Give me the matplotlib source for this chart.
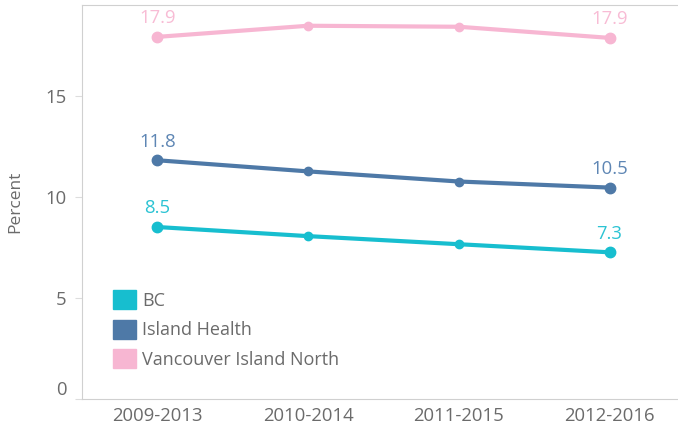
import matplotlib
matplotlib.use('Agg')
import matplotlib.pyplot as plt
from matplotlib.patches import Patch

plt.rcParams['font.family'] = ['Open Sans', 'DejaVu Sans']

# data
periods = ['2009-2013', '2010-2014', '2011-2015', '2012-2016']
bc = [8.5, 8.05, 7.65, 7.25]
island_health = [11.8, 11.25, 10.75, 10.45]
van_island_north = [17.9, 18.45, 18.4, 17.85]
end_labels = {'BC': ('8.5', '7.3'), 'Island Health': ('11.8', '10.5'),
              'Vancouver Island North': ('17.9', '17.9')}

series = [('BC', bc, '#17BECF'),
          ('Island Health', island_health, '#4E79A7'),
          ('Vancouver Island North', van_island_north, '#F7B6D2')]
label_cols = {'BC': '#2BC3D3', 'Island Health': '#5E86B4',
              'Vancouver Island North': '#F8BCD5'}

grey = '#6b6b6b'
fig = plt.figure(figsize=(6.78, 4.29), dpi=100)
ax = fig.add_axes([0.121, 0.070, 0.878, 0.9195])

x = list(range(len(periods)))
for name, vals, col in series:
    ax.plot(x, vals, color=col, lw=3, solid_capstyle='round', zorder=2)
    ax.plot(x[1:-1], vals[1:-1], 'o', color=col, ms=6, zorder=3)
    ax.plot([x[0], x[-1]], [vals[0], vals[-1]], 'o', color=col, ms=7.5, zorder=3)
    first, last = end_labels[name]
    ax.annotate(first, (x[0], vals[0]), xytext=(0, 7), textcoords='offset points',
                ha='center', va='bottom', color=label_cols[name], fontsize=13.3)
    ax.annotate(last, (x[-1], vals[-1]), xytext=(0, 7), textcoords='offset points',
                ha='center', va='bottom', color=label_cols[name], fontsize=13.3)

ax.set_xlim(-0.5, 3.45)
ax.set_ylim(0, 19.5)
ax.set_xticks(x)
ax.set_xticklabels(periods)
ax.set_yticks([0, 5, 10, 15])
ax.tick_params(axis='x', length=0, labelsize=13.3, labelcolor=grey, pad=6)
ax.tick_params(axis='y', length=5, color='#dddddd', labelsize=13.3, labelcolor=grey, pad=6)
ax.get_yticklabels()[0].set_va('bottom')
ax.set_ylabel('Percent', color=grey, fontsize=12.5, labelpad=16)

for s in ['left', 'bottom', 'top']:
    ax.spines[s].set_color('#d0d0d0')
ax.spines['right'].set_visible(False)

handles = [Patch(color=col, label=name) for name, vals, col in series]
leg = ax.legend(handles=handles, loc='lower left', bbox_to_anchor=(0.025, 0.035),
                frameon=False, fontsize=13, handlelength=1.25, handleheight=1.25,
                labelspacing=0.55, handletextpad=0.35, borderaxespad=0.5)
for t in leg.get_texts():
    t.set_color(grey)

plt.savefig('out.png', dpi=100)
